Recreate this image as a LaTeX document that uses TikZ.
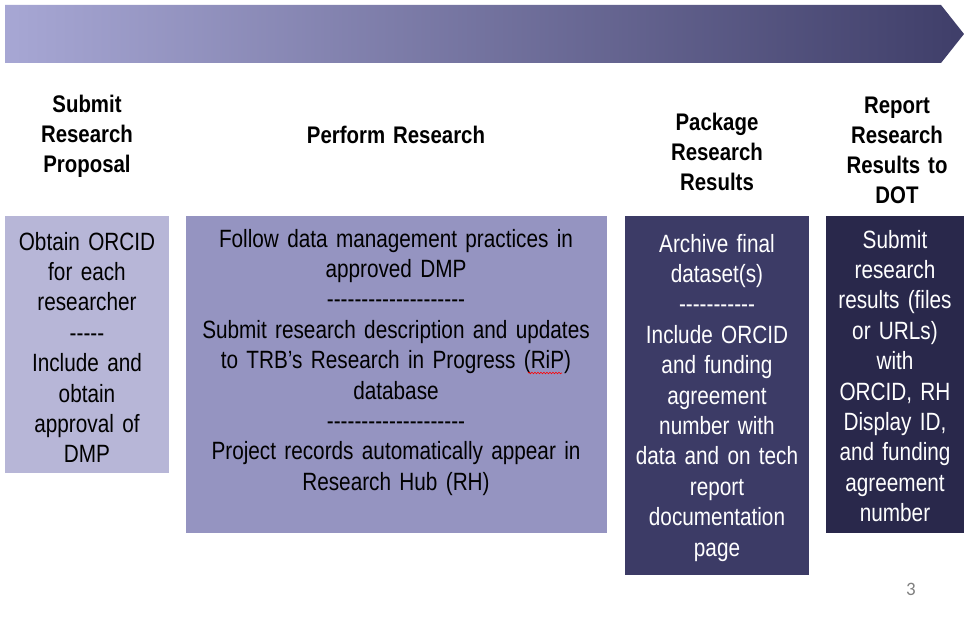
\documentclass[tikz,border=0pt]{standalone}
\usepackage{fontspec}
\setmainfont{Liberation Sans}
\newfontfamily\bodyf[FakeStretch=0.83]{Liberation Sans}
\newfontfamily\headf[FakeStretch=0.85]{Liberation Sans}
\newfontfamily\pagef{Carlito}
\usetikzlibrary{decorations.pathmorphing}
\definecolor{arrowL}{HTML}{A7A7D4}
\definecolor{arrowR}{HTML}{3F3E69}
\definecolor{boxA}{HTML}{B7B6D7}
\definecolor{boxB}{HTML}{9594C1}
\definecolor{boxC}{HTML}{3C3B66}
\definecolor{boxD}{HTML}{29284B}
\newcommand\dfive{-\kern0pt-\kern0pt-\kern0pt-\kern0pt-\kern0pt}
\tikzset{
  box/.style={draw=none, inner sep=0, outer sep=0, anchor=north west},
  bodytext/.style={inner sep=0, anchor=base, align=center,
    font=\bodyf\fontsize{25}{30.4}\selectfont},
  headtext/.style={inner sep=0, anchor=base, align=center, text width=180,
    font=\headf\bfseries\fontsize{24}{30}\selectfont},
}
\begin{document}
\begin{tikzpicture}[x=1pt,y=-1pt]
\useasboundingbox (0,0) rectangle (965,620);
\fill[white] (0,0) rectangle (965,620);
% timeline arrow
\shade[left color=arrowL, right color=arrowR]
  (5,5) -- (941,5) -- (964,34) -- (941,63) -- (5,63) -- cycle;
% headings
\node[headtext] (h1) at (87,113) {Submit\\Research\\Proposal};
\node[headtext] (h2) at (396,144) {Perform Research};
\node[headtext] (h3) at (717,131) {Package\\Research\\Results};
\node[headtext] (h4) at (897,114) {Report\\Research\\Results to\\DOT};
% boxes
\node[box, fill=boxA, minimum width=164, minimum height=257] (b1) at (5,216) {};
\node[box, fill=boxB, minimum width=421, minimum height=317] (b2) at (186,216) {};
\node[box, fill=boxC, minimum width=184, minimum height=359] (b3) at (625,216) {};
\node[box, fill=boxD, minimum width=138, minimum height=317] (b4) at (826,216) {};
% box texts
\node[bodytext, text width=160] (t1) at (87,250)
  {Obtain ORCID\\for each\\researcher\\\dfive\\Include and\\obtain\\approval of\\DMP};
\node[bodytext, text width=415] (t2) at (396,247)
  {Follow data management practices in\\approved DMP\\\dfive\dfive\dfive\dfive\\
   Submit research description and updates\\to TRB’s Research in Progress (RiP)\\database\\\dfive\dfive\dfive\dfive\\
   Project records automatically appear in\\Research Hub (RH)};
\node[bodytext, text width=180, text=white] (t3) at (717,252)
  {Archive final\\dataset(s)\\\dfive\dfive-\kern0pt\\Include ORCID\\and funding\\agreement\\number with\\data and on tech\\report\\documentation\\page};
\node[bodytext, text width=136, text=white] (t4) at (895,248)
  {Submit\\research\\results (files\\or URLs)\\with\\ORCID, RH\\Display ID,\\and funding\\agreement\\number};
% spell-check squiggle
\draw[red, line width=0.6pt, decorate, decoration={snake, segment length=3pt, amplitude=0.8pt}]
  (528,373) -- (562,373);
% page number
\node[inner sep=0, anchor=base, text=gray, font=\pagef\fontsize{19}{21}\selectfont] (pn) at (911,595) {3};
\end{tikzpicture}
\end{document}
